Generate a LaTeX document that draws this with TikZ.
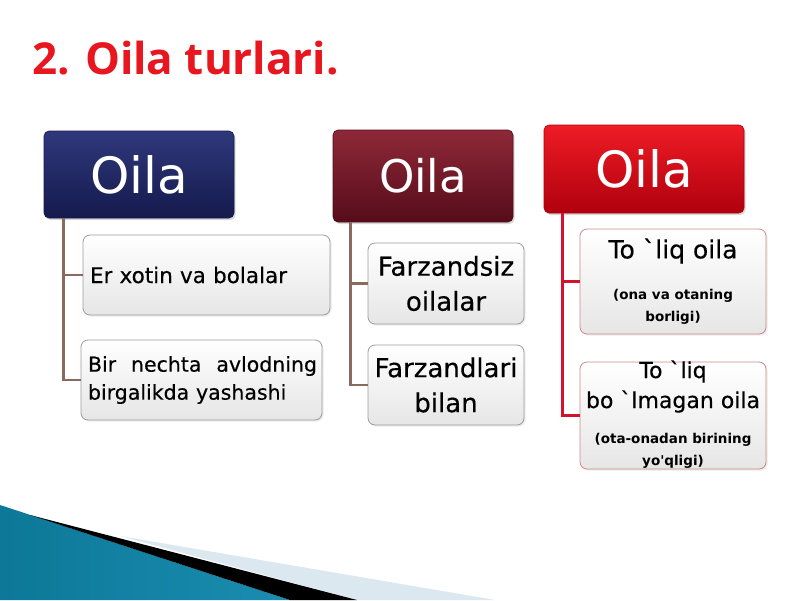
\documentclass[tikz,border=0pt]{standalone}
\usepackage{fontspec}
\setmainfont{DejaVu Sans}
\newfontfamily\titlefont{Open Sans}
\newfontfamily\boxfont[FakeBold=0.35]{DejaVu Sans}
\usetikzlibrary{calc,shadows}
\definecolor{titlered}{HTML}{E8171F}
\definecolor{navyT}{HTML}{2F387C}
\definecolor{navyB}{HTML}{141A4C}
\definecolor{marT}{HTML}{8E2838}
\definecolor{marB}{HTML}{560C1A}
\definecolor{redT}{HTML}{EE1C25}
\definecolor{redB}{HTML}{B0000E}
\definecolor{boxbot}{HTML}{E6E6E6}
\definecolor{boxedge}{HTML}{9C9C9C}
\definecolor{redge}{HTML}{C98A8A}
\definecolor{brownline}{HTML}{8A6A5E}
\definecolor{redline}{HTML}{D3132E}
\definecolor{tealA}{HTML}{0D7898}
\definecolor{tealM}{HTML}{45B3CF}
\definecolor{tealB}{HTML}{1A8DB0}
\definecolor{paleblue}{HTML}{DCE8EF}
\begin{document}
\begin{tikzpicture}[x=1pt,y=-1pt,
  hdr/.style 2 args={rounded corners=5pt, top color=#1, bottom color=#2, draw=#2, line width=0.6pt,
    text=white, inner sep=0pt, drop shadow={opacity=0.3, shadow xshift=1.5pt, shadow yshift=-2pt}},
  child/.style={rounded corners=7pt, top color=white, bottom color=boxbot, draw=#1, line width=0.8pt,
    inner sep=0pt, drop shadow={opacity=0.15, shadow xshift=1.5pt, shadow yshift=-1.5pt}},
  conn/.style={line width=2.6pt, draw=#1},
  txt/.style={inner sep=0pt, align=center},
]
\useasboundingbox (0,0) rectangle (800,600);
\fill[white] (0,0) rectangle (800,600);

% bottom-left decoration
\fill[paleblue] (120,536) -- (495,600) -- (357,600) -- cycle;
\shade[left color=tealA, middle color=tealM, right color=tealB, shading angle=90] (0,505) -- (290,600) -- (0,600) -- cycle;
\fill[black] (30,515) -- (357,600) -- (290,600) -- cycle;

% title
\node[anchor=west, text=titlered, inner sep=0pt, font=\titlefont\bfseries\fontsize{44}{50}\selectfont] (title) at (32,58) {2. Oila turlari.};

% headers
\node[hdr={navyT}{navyB}, minimum width=190, minimum height=87, font=\fontsize{50}{56}\selectfont] (H1) at (139,174.5) {Oila};
\node[hdr={marT}{marB}, minimum width=180, minimum height=92, font=\fontsize{45}{50}\selectfont] (H2) at (423,176) {Oila};
\node[hdr={redT}{redB}, minimum width=200, minimum height=88, font=\fontsize{50}{56}\selectfont] (H3) at (644,169) {Oila};

% left children
\node[child=boxedge, minimum width=247, minimum height=80, inner xsep=7pt, text width=233pt, align=left,
  font=\boxfont\fontsize{21.5}{26}\selectfont] (L1) at (206.5,275) {Er xotin va bolalar};
\node[child=boxedge, minimum width=241, minimum height=80, inner xsep=7pt, text width=227pt, align=left,
  font=\boxfont\fontsize{20.5}{28}\selectfont] (L2) at (201.5,380) {\hbox to 229pt{Bir\hfill nechta\hfill avlodning}\\birgalikda yashashi};

% middle children
\node[child=boxedge, minimum width=156, minimum height=81, align=center, font=\boxfont\fontsize{26}{35}\selectfont] (M1) at (446,283.5) {Farzandsiz\\oilalar};
\node[child=boxedge, minimum width=156, minimum height=80, align=center, font=\boxfont\fontsize{26}{35}\selectfont] (M2) at (446,385) {Farzandlari\\bilan};

% right children
\node[child=redge, minimum width=186, minimum height=105] (R1) at (673,281.5) {};
\node[child=redge, minimum width=186, minimum height=107] (R2) at (673,415.5) {};
\node[txt, font=\boxfont\fontsize{25}{30}\selectfont] (R1a) at (673,251) {To \textasciigrave liq oila};
\node[txt, font=\bfseries\fontsize{13.5}{22}\selectfont] (R1b) at (673,307) {(ona va otaning\\borligi)};
\node[txt, font=\boxfont\fontsize{22}{30}\selectfont] (R2a) at (673,386.5) {To \textasciigrave liq\\bo \textasciigrave lmagan oila};
\node[txt, font=\bfseries\fontsize{13.5}{22}\selectfont] (R2b) at (673,451) {(ota-onadan birining\\yo\textquotesingle qligi)};

% connectors
\draw[conn=brownline] ($(H1.south west)+(20,0)$) |- (L1.west);
\draw[conn=brownline] ($(H1.south west)+(20,0)$) |- (L2.west);
\draw[conn=brownline] ($(H2.south west)+(18,0)$) |- (M1.west);
\draw[conn=brownline] ($(H2.south west)+(18,0)$) |- (M2.west);
\draw[conn=redline] ($(H3.south west)+(19,0)$) |- (R1.west);
\draw[conn=redline] ($(H3.south west)+(19,0)$) |- (R2.west);
\end{tikzpicture}
\end{document}
